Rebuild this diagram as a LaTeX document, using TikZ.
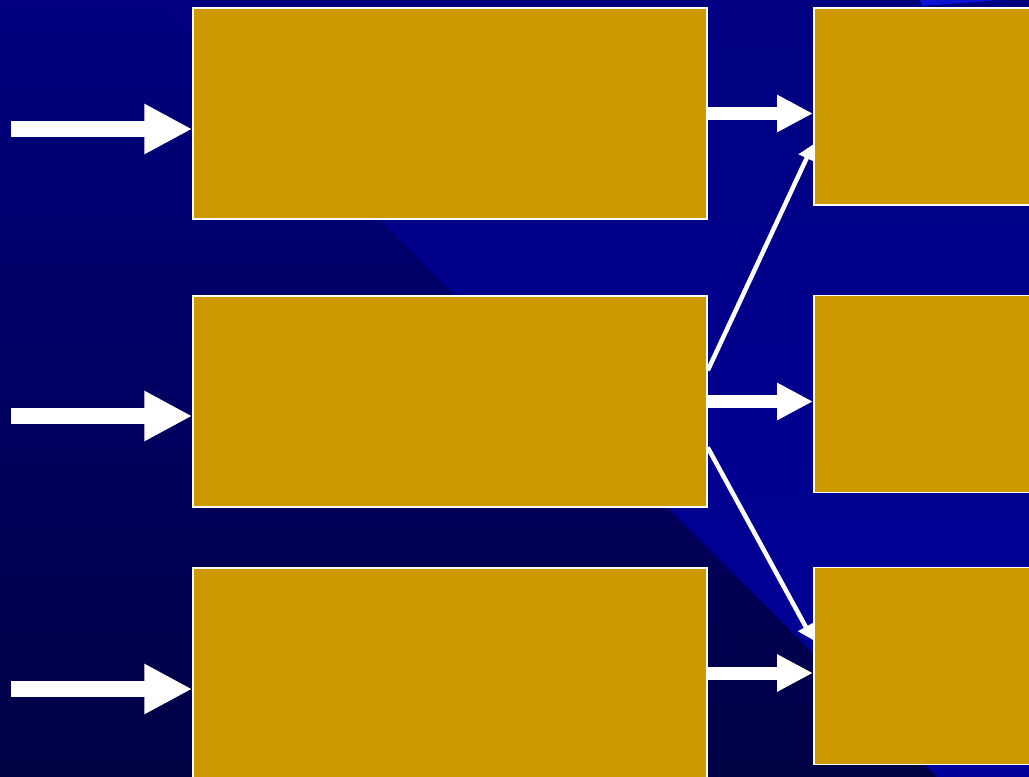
\documentclass[tikz,border=0pt]{standalone}
\usetikzlibrary{arrows.meta,calc}
\definecolor{slidenavytop}{RGB}{0,0,128}
\definecolor{slidenavybottom}{RGB}{0,0,68}
\definecolor{slidebluelight}{RGB}{0,0,154}
\definecolor{slideblueglow}{RGB}{10,20,210}
\definecolor{slidegold}{RGB}{204,153,0}
\tikzset{
  gold box/.style={
    draw=white,
    fill=slidegold,
    line width=1.5pt,
    inner sep=0pt,
    minimum width=514pt,
  },
  input arrow/.style={
    -{Triangle[length=48pt,width=47pt]},
    line width=16pt,
    draw=white,
  },
  link arrow/.style={
    -{Triangle[length=36pt,width=35pt]},
    line width=13pt,
    draw=white,
  },
  cross arrow/.style={
    -{Triangle[length=15pt,width=17pt]},
    line width=4.5pt,
    draw=white,
  },
}

\begin{document}
\begin{tikzpicture}[x=1pt,y=-1pt]
  \useasboundingbox (0,0) rectangle (1029,777);
  \clip (0,0) rectangle (1029,777);
  % background
  \shade[top color=slidenavytop, bottom color=slidenavybottom] (0,0) rectangle (1029,777);
  \shade[top color=slidenavytop, bottom color=slidebluelight]
    (160,0) -- (1029,0) -- (1029,777) -- (937,777) -- cycle;
  \fill[slideblueglow] (920,0) -- (1000,0) -- (922,6) -- cycle;

  % left column
  \node[gold box, minimum height=211pt] (l1) at (450,113.5) {};
  \node[gold box, minimum height=211pt] (l2) at (450,401.5) {};
  \node[gold box, minimum height=210pt] (l3) at (450,673) {};
  % right column
  \node[gold box, minimum height=197pt, anchor=west] (r1) at (813,106.5) {};
  \node[gold box, minimum height=197pt, anchor=west] (r2) at (813,394) {};
  \node[gold box, minimum height=197pt, anchor=west] (r3) at (813,666) {};

  % inputs
  \coordinate (in1) at (11,129);
  \coordinate (in2) at (11,416);
  \coordinate (in3) at (11,689);
  \draw[input arrow] (in1) -- (in1 -| l1.west);
  \draw[input arrow] (in2) -- (in2 -| l2.west);
  \draw[input arrow] (in3) -- (in3 -| l3.west);

  % links
  \draw[link arrow] (l1.east) -- (l1.east -| r1.west);
  \draw[link arrow] (l2.east) -- (l2.east -| r2.west);
  \draw[link arrow] (l3.east) -- (l3.east -| r3.west);
  \draw[cross arrow] ([yshift=31pt]l2.east) -- ([yshift=-38pt]r1.west);
  \draw[cross arrow] ([yshift=-46pt]l2.east) -- ([yshift=26pt]r3.west);
\end{tikzpicture}
\end{document}
